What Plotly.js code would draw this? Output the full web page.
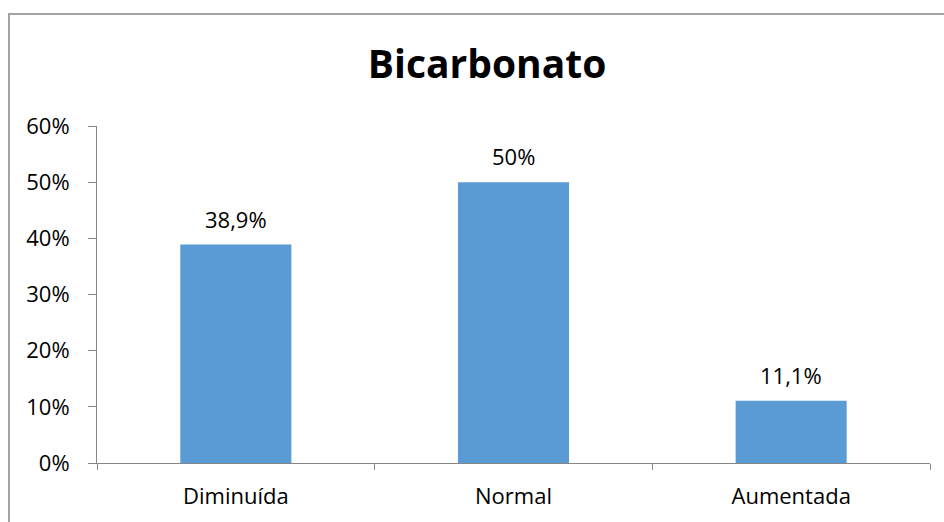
<!DOCTYPE html>
<html>
<head>
<meta charset="utf-8">
<script src="https://cdn.plot.ly/plotly-3.0.1.min.js"></script>
<style>
  html, body { margin: 0; padding: 0; background: #fff; overflow: hidden; }
  #wrap { position: relative; width: 944px; height: 522px; overflow: hidden; }
  #chart { position: absolute; left: 0; top: 0; width: 944px; height: 522px; }
  #frame { position: absolute; left: 8px; top: 13px; width: 1000px; height: 600px;
           border-left: 2px solid #A3A3A3; border-top: 2px solid #A3A3A3; pointer-events: none; }
</style>
</head>
<body>
<div id="wrap">
  <div id="chart"></div>
  <div id="frame"></div>
</div>
<script>
const chartTitle = "Bicarbonato";
const categories = ["Diminuída", "Normal", "Aumentada"];
const values = [0.389, 0.50, 0.111];

function fmtPct(v) {
  let s = (Math.round(v * 1000) / 10).toString();
  return s.replace('.', ',') + '%';
}

const labelFont = { family: '"Open Sans", Lato, sans-serif', size: 22, color: '#000' };

const trace = {
  type: 'bar',
  x: categories,
  y: values,
  marker: { color: '#5B9BD5' },
  hoverinfo: 'none'
};

const annotations = categories.map((c, i) => ({
  x: c, y: values[i], xref: 'x', yref: 'y',
  text: fmtPct(values[i]),
  showarrow: false,
  yanchor: 'bottom',
  yshift: 9,
  font: labelFont
}));

const layout = {
  width: 944, height: 522,
  margin: { l: 97, r: 14, t: 126, b: 59 },
  paper_bgcolor: '#fff', plot_bgcolor: '#fff',
  separators: ',.',
  bargap: 0.6,
  showlegend: false,
  title: {
    text: '<b>' + chartTitle + '</b>',
    font: { family: '"Open Sans", Lato, sans-serif', size: 39, color: '#000' },
    xref: 'container', x: 0.516, xanchor: 'center',
    yref: 'container', y: 0.876, yanchor: 'middle'
  },
  xaxis: {
    type: 'category',
    range: [-0.5, 2.5],
    showline: true, linecolor: '#868686', linewidth: 1,
    ticks: 'outside', tickson: 'boundaries', ticklen: 6, tickcolor: '#868686',
    showgrid: false, zeroline: false,
    tickfont: labelFont,
    ticklabelstandoff: 14,
    fixedrange: true
  },
  yaxis: {
    range: [0, 0.6], dtick: 0.1, tick0: 0,
    tickformat: '.0%',
    showline: true, linecolor: '#868686', linewidth: 1,
    ticks: 'outside', ticklen: 8, tickcolor: '#868686',
    showgrid: false, zeroline: false,
    tickfont: labelFont,
    ticklabelstandoff: 14,
    fixedrange: true
  },
  annotations: annotations
};

Plotly.newPlot('chart', [trace], layout, { displayModeBar: false, staticPlot: true });
</script>
</body>
</html>
